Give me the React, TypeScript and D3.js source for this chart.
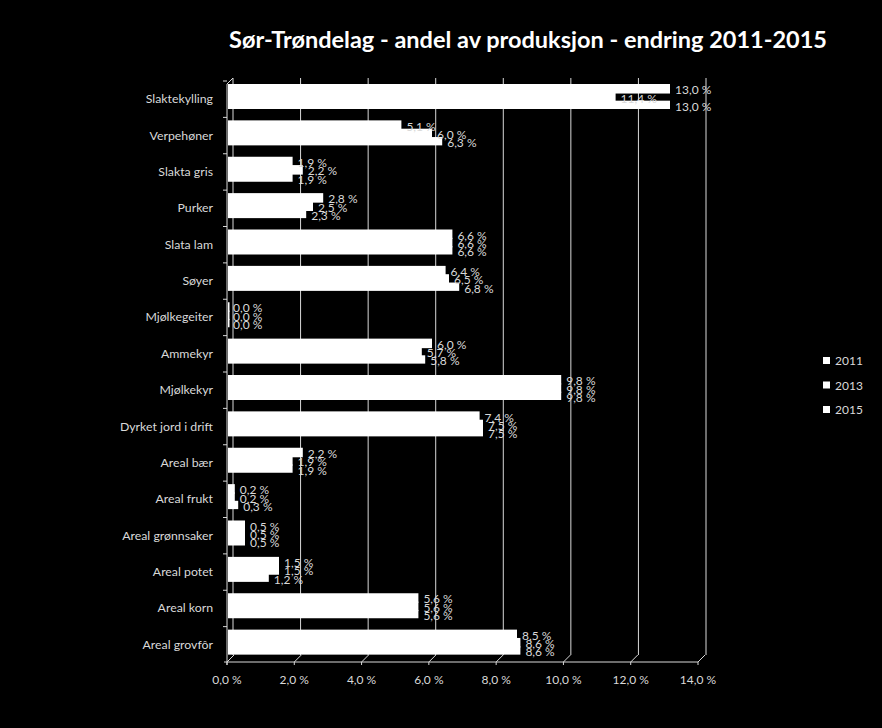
import React from "react";
import * as d3 from "d3";

const categories = [
  "Slaktekylling", "Verpehøner", "Slakta gris", "Purker", "Slata lam", "Søyer",
  "Mjølkegeiter", "Ammekyr", "Mjølkekyr", "Dyrket jord i drift", "Areal bær",
  "Areal frukt", "Areal grønnsaker", "Areal potet", "Areal korn", "Areal grovfôr",
];
const seriesNames = ["2011", "2013", "2015"];
const v2011 = [13.0, 5.1, 1.9, 2.8, 6.6, 6.4, 0.0, 6.0, 9.8, 7.4, 2.2, 0.2, 0.5, 1.5, 5.6, 8.5];
const v2013 = [11.4, 6.0, 2.2, 2.5, 6.6, 6.5, 0.0, 5.7, 9.8, 7.5, 1.9, 0.2, 0.5, 1.5, 5.6, 8.6];
const v2015 = [13.0, 6.3, 1.9, 2.3, 6.6, 6.8, 0.0, 5.8, 9.8, 7.5, 1.9, 0.3, 0.5, 1.2, 5.6, 8.6];
const xTicks = [0, 2, 4, 6, 8, 10, 12, 14];
const title = "Sør-Trøndelag - andel av produksjon - endring 2011-2015";

const W = 882, H = 728;
const FONT = "Lato, 'Open Sans', sans-serif";
const TXT = "#d9d9d9";
const fmt = (v: number) => d3.format(".1f")(v).replace(".", ",") + " %";

export default function App() {
  const series = [v2011, v2013, v2015];
  const xBar = d3.scaleLinear().domain([0, 14]).range([228, 704]);
  const xBack = d3.scaleLinear().domain([0, 14]).range([233, 706]);
  const xFront = d3.scaleLinear().domain([0, 14]).range([227, 698]);
  const y = d3.scaleBand().domain(categories).range([81, 663]).padding(0);
  const inner = d3.scaleBand().domain(seriesNames).range([3, 28]).padding(0);
  const axisY = 662;

  return (
    <svg width={W} height={H} style={{ position: "absolute", left: 0, top: 0, background: "#000" }}>
      <rect x={0} y={0} width={W} height={H} fill="#000" />
      <text x={528} y={48} textAnchor="middle" fill="#fff" fontFamily={FONT} fontWeight="bold" fontSize={23.5}>
        {title}
      </text>
      {/* back gridlines */}
      {xTicks.map((t) => (
        <line key={"g" + t} x1={xBack(t)} x2={xBack(t)} y1={78} y2={655} stroke="#d9d9d9" strokeWidth={1} />
      ))}
      {/* left axis */}
      <line x1={227} x2={227} y1={84} y2={axisY + 3} stroke="#d9d9d9" />
      <line x1={227} x2={233} y1={84} y2={78} stroke="#d9d9d9" />
      {categories.map((c) => (
        <line key={"yt" + c} x1={223} x2={227} y1={y(c)!} y2={y(c)!} stroke="#d9d9d9" />
      ))}
      {/* bottom axis */}
      <line x1={224} x2={xFront(14)} y1={axisY} y2={axisY} stroke="#d9d9d9" />
      {xTicks.map((t) => (
        <g key={"xt" + t}>
          <line x1={xFront(t)} x2={xFront(t) + 7} y1={axisY} y2={axisY - 7} stroke="#d9d9d9" />
          <line x1={xFront(t)} x2={xFront(t)} y1={axisY} y2={axisY + 3} stroke="#d9d9d9" />
          <text x={xFront(t)} y={684} textAnchor="middle" fill={TXT} fontFamily={FONT} fontSize={12}>
            {fmt(t)}
          </text>
        </g>
      ))}
      {/* category labels */}
      {categories.map((c) => (
        <text key={"cl" + c} x={213} y={y(c)! + y.bandwidth() / 2 + 4} textAnchor="end" fill={TXT} fontFamily={FONT} fontSize={12.3}>
          {c}
        </text>
      ))}
      {/* bars */}
      {categories.map((c, i) =>
        series.map((s, k) => (
          <rect
            key={"b" + c + k}
            x={xBar(0)}
            y={y(c)! + inner(seriesNames[k])!}
            width={Math.max(1.5, xBar(s[i]) - xBar(0))}
            height={inner.bandwidth() + (k < 2 ? 1.2 : 0)}
            fill="#fff"
          />
        ))
      )}
      {/* value labels */}
      {categories.map((c, i) =>
        series.map((s, k) => (
          <text
            key={"l" + c + k}
            x={xBar(s[i]) + 5}
            y={y(c)! + inner(seriesNames[k])! + inner.bandwidth() / 2 + 6}
            fill={TXT}
            fontFamily={FONT}
            fontSize={12}
          >
            {fmt(s[i])}
          </text>
        ))
      )}
      {/* legend */}
      {seriesNames.map((n, k) => (
        <g key={"lg" + n}>
          <rect x={823} y={357 + k * 24.5} width={7} height={7} fill="#fff" />
          <text x={835} y={365 + k * 24.5} fill={TXT} fontFamily={FONT} fontSize={12}>
            {n}
          </text>
        </g>
      ))}
    </svg>
  );
}
